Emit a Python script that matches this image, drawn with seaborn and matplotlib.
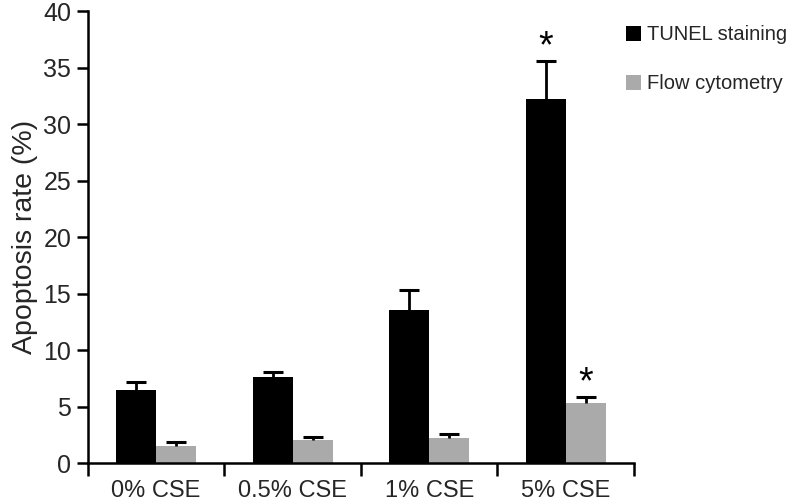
import matplotlib
matplotlib.use("Agg")
import matplotlib.pyplot as plt
import seaborn as sns
import pandas as pd
import numpy as np
from matplotlib.patches import Patch

categories = ["0% CSE", "0.5% CSE", "1% CSE", "5% CSE"]
series = ["TUNEL staining", "Flow cytometry"]
tunel = [6.45, 7.65, 13.5, 32.2]
tunel_err = [0.7, 0.4, 1.8, 3.4]
flow = [1.5, 2.05, 2.2, 5.3]
flow_err = [0.35, 0.25, 0.4, 0.55]
significant_tunel = [False, False, False, True]
significant_flow = [False, False, False, True]

sns.set_theme(style="ticks")
plt.rcParams['font.family'] = ['Liberation Sans', 'DejaVu Sans']

df = pd.DataFrame({
    "Group": categories * 2,
    "Series": [series[0]] * 4 + [series[1]] * 4,
    "Value": tunel + flow,
})

fig = plt.figure(figsize=(7.92, 5.04), dpi=100)
ax = fig.add_axes([0.111, 0.0813, 0.6895, 0.8967])
palette = {series[0]: "#000000", series[1]: "#aaaaaa"}
sns.barplot(data=df, x="Group", y="Value", hue="Series", order=categories,
            hue_order=series, palette=palette, width=0.584, gap=0,
            errorbar=None, saturation=1, ax=ax, legend=False, linewidth=0)

n = len(categories)
patches = [p for p in ax.patches if p.get_width() > 0]
tunel_bars = patches[:n]
flow_bars = patches[n:2 * n]
for bars, vals, errs, sig in [(tunel_bars, tunel, tunel_err, significant_tunel),
                              (flow_bars, flow, flow_err, significant_flow)]:
    xs = np.array([b.get_x() + b.get_width() / 2 for b in bars])
    w = bars[0].get_width()
    tops = np.array(vals) + np.array(errs)
    ax.vlines(xs, vals, tops, colors="black", linewidth=2.0, zorder=3)
    ax.hlines(tops, xs - w * 0.25, xs + w * 0.25, colors="black", linewidth=2.2, zorder=3)
    for x, t, s in zip(xs, tops, sig):
        if s:
            ax.annotate("*", (x, t), xytext=(0, -3.5), textcoords="offset points",
                        ha="center", va="bottom", fontsize=27, color="black")

ax.set_ylim(0, 40)
ax.set_xlim(-0.5, n - 0.5)
ax.set_yticks(np.arange(0, 41, 5))
ax.set_xticks(np.arange(-0.5, n, 1.0))
ax.set_xticklabels([])
ax.set_xticks(np.arange(n), minor=True)
ax.set_xticklabels(categories, minor=True)
ax.tick_params(axis="x", which="minor", length=0, labelsize=17, pad=12)
ax.tick_params(axis="x", which="major", length=9, width=1.8, color="black")
ax.tick_params(axis="y", length=8, width=1.8, labelsize=18, color="black", pad=4)
ax.set_xlabel("")
ax.set_ylabel("Apoptosis rate (%)", fontsize=20.5, labelpad=4)
for s in ["left", "bottom"]:
    ax.spines[s].set_linewidth(1.8)
    ax.spines[s].set_color("black")
sns.despine(ax=ax)

handles = [Patch(facecolor=palette[s], edgecolor="none") for s in series]
fig.legend(handles, series, loc="upper left", bbox_to_anchor=(0.7905, 0.95),
           frameon=False, fontsize=14.5, handlelength=0.75, handleheight=0.75,
           handletextpad=0.3, labelspacing=1.5, borderpad=0, borderaxespad=0)

fig.savefig("out.png", dpi=100)
